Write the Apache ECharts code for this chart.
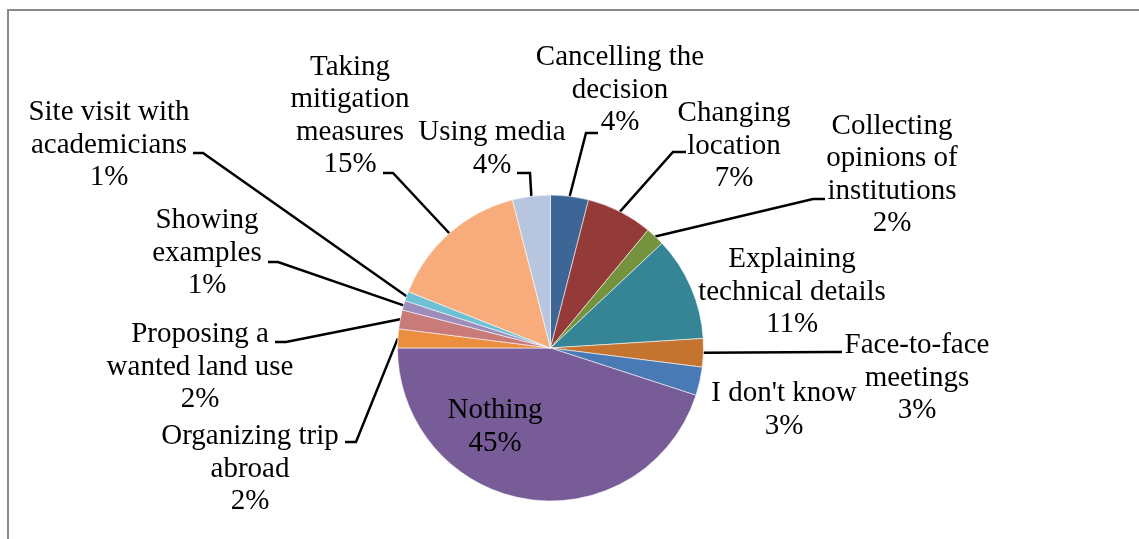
<!DOCTYPE html>
<html>
<head>
<meta charset="utf-8">
<script src="https://cdn.jsdelivr.net/npm/echarts@6.0.0/dist/echarts.min.js"></script>
<style>
  html, body { margin: 0; padding: 0; background: #ffffff; }
  #chart { width: 1139px; height: 539px; }
</style>
</head>
<body>
<div id="chart"></div>
<script>
// Responses, clockwise from 12 o'clock
const categories = [
  'Cancelling the\ndecision',
  'Changing\nlocation',
  'Collecting\nopinions of\ninstitutions',
  'Explaining\ntechnical details',
  'Face-to-face\nmeetings',
  "I don't know",
  'Nothing',
  'Organizing trip\nabroad',
  'Proposing a\nwanted land use',
  'Showing\nexamples',
  'Site visit with\nacademicians',
  'Taking\nmitigation\nmeasures',
  'Using media'
];
const shares = [4, 7, 2, 11, 3, 3, 45, 2, 2, 1, 1, 15, 4];

const sliceColors = [
  '#3D6696', '#943B3A', '#77923C', '#368596', '#C4742F', '#4A7AB5', '#785C97',
  '#EB8E3F', '#C97B79', '#9E8DBA', '#6EC0D4', '#F8AC7B', '#B7C5DF'
];

// Pie geometry (pixels)
const CX = 550.5, CY = 348, R = 153;

// Label placement: block centre, point where the leader meets the text,
// horizontal stub length (sign = direction towards the pie), and where on
// the slice arc the leader starts (fraction of the slice's sweep).
const labelSpots = [
  { at: [620, 90],  hook: [598, 133], stub: -12, along: 0.5 },
  { at: [734, 146], hook: [686, 152], stub: -13, along: 0.5 },
  { at: [892, 175], hook: [825, 199], stub: -12, along: 0.5 },
  { at: [792, 292], hook: null },
  { at: [917, 378], hook: [842, 352], stub: -12, along: 0.5 },
  { at: [784, 410], hook: null },
  { at: [495, 427], hook: null },
  { at: [250, 469], hook: [345, 442], stub: 11, along: 0.5 },
  { at: [200, 367], hook: [275, 342], stub: 11, along: 0.5 },
  { at: [207, 253], hook: [268, 262], stub: 10, along: 0.5 },
  { at: [109, 145], hook: [193, 153], stub: 10, along: 0.5 },
  { at: [350, 116], hook: [383, 173], stub: 10, along: 0.5 },
  { at: [492, 149], hook: [517, 173], stub: 13, along: 0.5 }
];

const total = shares.reduce((a, b) => a + b, 0);
const startShare = [];
shares.reduce((acc, v, i) => { startShare[i] = acc; return acc + v; }, 0);

function arcPoint(i, frac) {
  const a = (startShare[i] + shares[i] * frac) / total * Math.PI * 2;
  return [CX + R * Math.sin(a), CY - R * Math.cos(a)];
}

const data = categories.map((name, i) => ({
  name: name,
  value: shares[i],
  itemStyle: { color: sliceColors[i] },
  labelLine: { show: !!labelSpots[i].hook }
}));

const chart = echarts.init(document.getElementById('chart'), null, { renderer: 'canvas' });

chart.setOption({
  animation: false,
  backgroundColor: '#ffffff',
  graphic: [{
    type: 'rect',
    shape: { x: 8, y: 10, width: 1400, height: 800 },
    style: { fill: 'none', stroke: '#8A8A8A', lineWidth: 2 },
    silent: true
  }],
  series: [{
    type: 'pie',
    center: [CX, CY],
    radius: R,
    startAngle: 90,
    clockwise: true,
    avoidLabelOverlap: false,
    data: data,
    itemStyle: { borderColor: 'rgba(255,255,255,0.7)', borderWidth: 0.8 },
    label: {
      show: true,
      position: 'outside',
      color: '#000000',
      fontFamily: 'Liberation Serif',
      fontSize: 29,
      lineHeight: 32.5,
      align: 'center',
      formatter: p => p.name + '\n' + Math.round(p.percent) + '%'
    },
    labelLine: {
      show: true,
      smooth: false,
      lineStyle: { color: '#000000', width: 2.5 }
    },
    labelLayout: function (params) {
      const s = labelSpots[params.dataIndex];
      const out = { x: s.at[0], y: s.at[1], align: 'center', verticalAlign: 'middle' };
      if (s.hook) {
        const elbow = [s.hook[0] + s.stub, s.hook[1]];
        out.labelLinePoints = [arcPoint(params.dataIndex, s.along), elbow, s.hook];
      }
      return out;
    }
  }]
});
</script>
</body>
</html>
